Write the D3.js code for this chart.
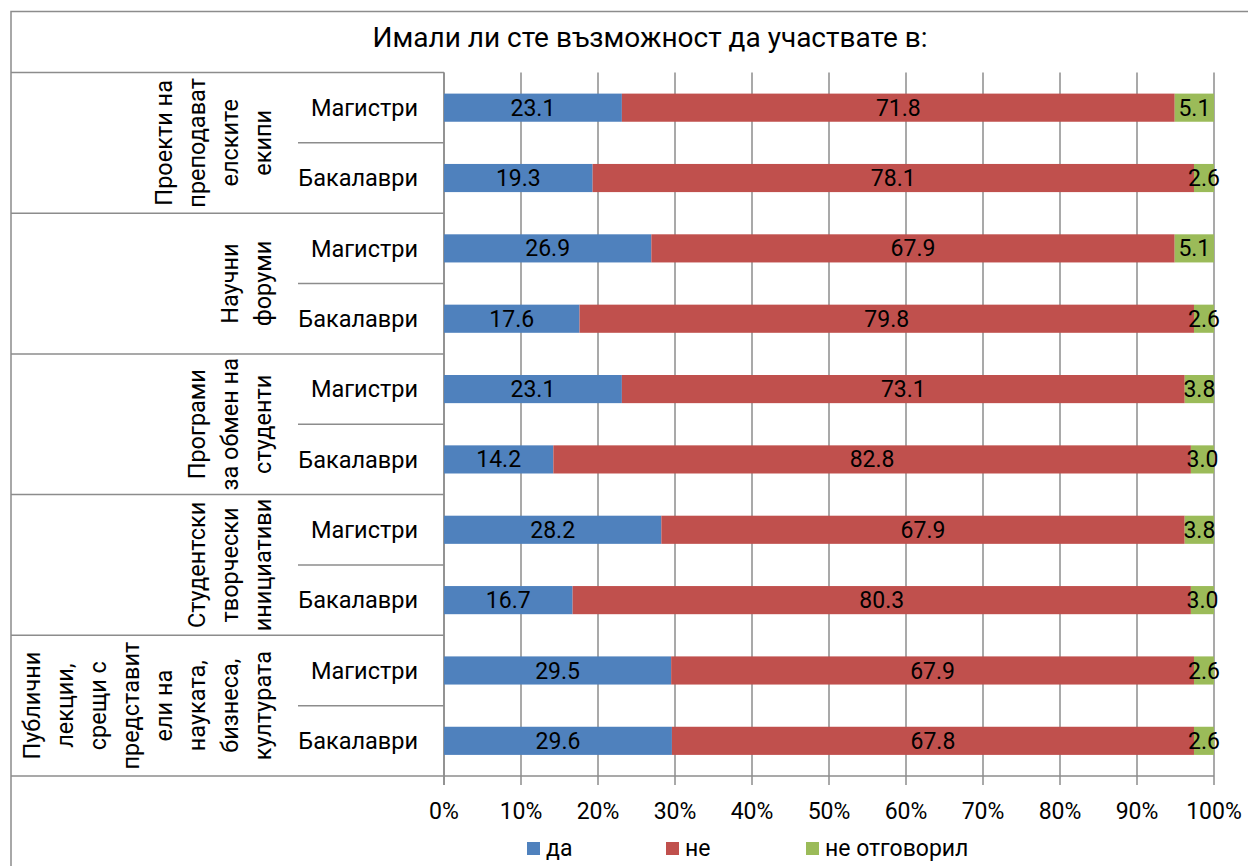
<!DOCTYPE html>
<html lang="bg">
<head>
  <meta charset="UTF-8" />
  <title>Имали ли сте възможност да участвате в:</title>
  <script src="https://d3js.org/d3.v7.min.js"></script>
  <style>
    body {
      margin: 0;
      background: #fff;
      font-family: Roboto, "Open Sans", sans-serif;
    }
    svg { display: block; }
  </style>
</head>
<body>
  <div id="chart"></div>

  <script>
    // данни
    const title = "Имали ли сте възможност да участвате в:";
    const groupLines = [
      ["Проекти на", "преподават", "елските", "екипи"],
      ["Научни", "форуми"],
      ["Програми", "за обмен на", "студенти"],
      ["Студентски", "творчески", "инициативи"],
      ["Публични", "лекции,", "срещи с", "представит", "ели на", "науката,", "бизнеса,", "културата"]
    ];
    const levels = ["Магистри", "Бакалаври"];
    const seriesNames = ["да", "не", "не отговорил"];
    // по групи: Магистри, Бакалаври
    const da = [23.1, 19.3, 26.9, 17.6, 23.1, 14.2, 28.2, 16.7, 29.5, 29.6];
    const ne = [71.8, 78.1, 67.9, 79.8, 73.1, 82.8, 67.9, 80.3, 67.9, 67.8];
    const neOtg = [5.1, 2.6, 5.1, 2.6, 3.8, 3.0, 3.8, 3.0, 2.6, 2.6];
    const tickLabels = ["0%", "10%", "20%", "30%", "40%", "50%", "60%", "70%", "80%", "90%", "100%"];

    const colors = ["#4F81BD", "#C0504D", "#9BBB59"];
    const gridColor = "#8c8c8c";

    const W = 1248, H = 866;
    const plot = { left: 444, right: 1214, top: 72.5, bottom: 776 };
    const frameLeft = 11, subLeft = 298;

    const rows = [];
    groupLines.forEach((g, gi) => {
      levels.forEach((lv, li) => {
        const i = gi * levels.length + li;
        rows.push({ id: i, group: gi, level: lv, "да": da[i], "не": ne[i], "не отговорил": neOtg[i] });
      });
    });

    const svg = d3.select("#chart").append("svg")
      .attr("width", W)
      .attr("height", H);

    // рамка
    svg.append("path")
      .attr("d", `M${W + 5},11.5 H${frameLeft} V${H + 5}`)
      .attr("fill", "none")
      .attr("stroke", gridColor)
      .attr("stroke-width", 1.5);

    svg.append("text")
      .attr("x", 650)
      .attr("y", 47)
      .attr("text-anchor", "middle")
      .style("font-size", "28px")
      .text(title);

    const x = d3.scaleLinear().domain([0, 1]).range([plot.left, plot.right]);
    const y = d3.scaleBand()
      .domain(rows.map(d => d.id))
      .range([plot.top, plot.bottom])
      .paddingInner(0.6)
      .paddingOuter(0.3);
    const step = y.step();

    // решетка
    const ticks = x.ticks(10);
    svg.append("g")
      .selectAll("line")
      .data(ticks)
      .join("line")
      .attr("x1", d => x(d)).attr("x2", d => x(d))
      .attr("y1", plot.top).attr("y2", plot.bottom + 9)
      .attr("stroke", gridColor)
      .attr("stroke-width", 1.5);

    // таблица с категории
    const tbl = svg.append("g").attr("stroke", gridColor).attr("stroke-width", 1.5);
    d3.range(groupLines.length + 1).forEach(k => {
      const yy = plot.top + k * levels.length * step;
      tbl.append("line")
        .attr("x1", frameLeft).attr("x2", k === groupLines.length ? plot.right : plot.left)
        .attr("y1", yy).attr("y2", yy);
    });
    groupLines.forEach((g, gi) => {
      const yy = plot.top + (gi * levels.length + 1) * step;
      tbl.append("line")
        .attr("x1", subLeft).attr("x2", plot.left)
        .attr("y1", yy).attr("y2", yy);
    });
    tbl.append("line")
      .attr("x1", plot.left).attr("x2", plot.left)
      .attr("y1", plot.top).attr("y2", plot.bottom + 9);

    // барове
    const stack = d3.stack().keys(seriesNames).offset(d3.stackOffsetExpand);
    const stacked = stack(rows);

    const layer = svg.append("g")
      .selectAll("g")
      .data(stacked)
      .join("g")
      .attr("fill", (d, i) => colors[i]);

    layer.selectAll("rect")
      .data(d => d)
      .join("rect")
      .attr("x", d => x(d[0]))
      .attr("y", d => y(d.data.id))
      .attr("width", d => x(d[1]) - x(d[0]))
      .attr("height", y.bandwidth());

    layer.selectAll("text")
      .data(d => d.map(p => ({ p, key: d.key })))
      .join("text")
      .attr("x", d => (x(d.p[0]) + x(d.p[1])) / 2)
      .attr("y", d => y(d.p.data.id) + y.bandwidth() / 2)
      .attr("dy", "0.35em")
      .attr("text-anchor", "middle")
      .attr("fill", "#000")
      .style("font-size", "23px")
      .text(d => d.p.data[d.key].toFixed(1));

    // подкатегории
    svg.append("g")
      .selectAll("text")
      .data(rows)
      .join("text")
      .attr("x", 418)
      .attr("y", d => y(d.id) + y.bandwidth() / 2)
      .attr("dy", "0.35em")
      .attr("text-anchor", "end")
      .style("font-size", "23.5px")
      .text(d => d.level);

    // групи (завъртян текст)
    groupLines.forEach((lines, gi) => {
      const cy = plot.top + (gi + 0.5) * levels.length * step;
      lines.forEach((ln, li) => {
        const cx = 263 - (lines.length - 1 - li) * 33;
        svg.append("text")
          .attr("transform", `translate(${cx},${cy}) rotate(-90)`)
          .attr("text-anchor", "middle")
          .attr("dy", "0.35em")
          .style("font-size", "23.5px")
          .text(ln);
      });
    });

    // етикети на оста
    svg.append("g")
      .selectAll("text")
      .data(ticks)
      .join("text")
      .attr("x", d => x(d))
      .attr("y", 819)
      .attr("text-anchor", "middle")
      .style("font-size", "23px")
      .text((d, i) => tickLabels[i]);

    // легенда
    const legX = [527, 666, 806];
    const legend = svg.append("g");
    seriesNames.forEach((s, i) => {
      const g = legend.append("g").attr("transform", `translate(${legX[i]},842)`);
      g.append("rect").attr("width", 13).attr("height", 13).attr("fill", colors[i]);
      g.append("text")
        .attr("x", 19)
        .attr("y", 14)
        .style("font-size", "23px")
        .text(s);
    });
  </script>
</body>
</html>
